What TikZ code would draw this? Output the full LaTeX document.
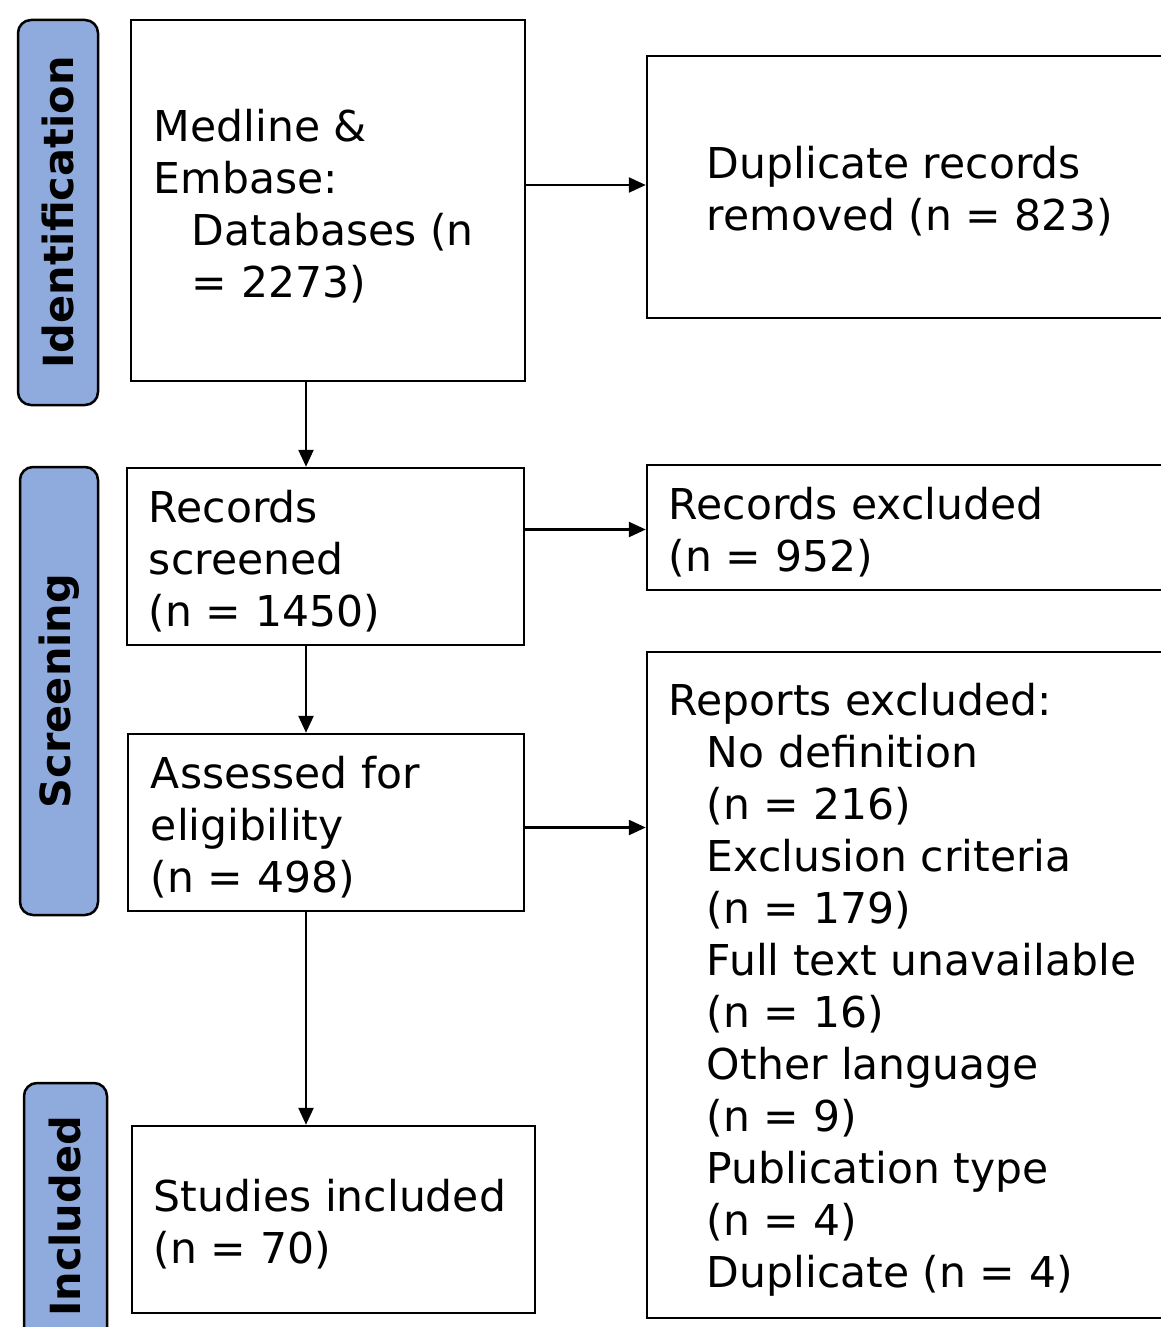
\documentclass[tikz,border=0pt]{standalone}
\usepackage{fontspec}
\setmainfont{DejaVu Sans}
\usetikzlibrary{arrows.meta,calc}
\definecolor{labblue}{HTML}{8FAADC}
\tikzset{
  box/.style={draw=black, line width=2.5pt, fill=white, inner sep=0pt, rectangle},
  txt/.style={anchor=west, align=left, inner sep=0pt, font=\fontsize{42.5}{52}\selectfont},
  lab/.style={draw=black, line width=2.5pt, fill=labblue, rounded corners=13pt, inner sep=0pt, rotate=90, font=\fontsize{41.5}{50}\selectfont\bfseries},
  arr/.style={line width=2.5pt, -{Triangle[length=17pt,width=15pt]}}
}
\newcommand{\ind}{\hspace*{38pt}}
\begin{document}
\begin{tikzpicture}[x=1pt,y=-1pt]
\useasboundingbox[fill=white] (0,0) rectangle (1160,1327);
% side labels
\node[lab, minimum width=385, minimum height=80] (lid) at (58,212.5) {Identification};
\node[lab, minimum width=448, minimum height=78] (lsc) at (59,691) {Screening};
\node[lab, minimum width=267, minimum height=83] (lin) at (65.5,1216.5) {Included};
% boxes
\node[box, minimum width=394, minimum height=361] (b1) at (328,200.5) {};
\node[box, minimum width=528, minimum height=262] (b2) at (911,187) {};
\node[box, minimum width=397, minimum height=177] (b3) at (325.5,556.5) {};
\node[box, minimum width=528, minimum height=125] (b4) at (911,527.5) {};
\node[box, minimum width=396, minimum height=177] (b5) at (326,822.5) {};
\node[box, minimum width=528, minimum height=666] (b6) at (911,985) {};
\node[box, minimum width=403, minimum height=187] (b7) at (333.5,1219.5) {};
% texts
\node[txt] (t1) at ([xshift=24pt,yshift=-6pt]b1.west) {Medline \&\\Embase:\\\ind Databases (n\\\ind = 2273)};
\node[txt] (t2) at ([xshift=61pt,yshift=-4pt]b2.west) {Duplicate records\\removed (n = 823)};
\node[txt] (t3) at ([xshift=23pt,yshift=-5pt]b3.west) {Records\\screened\\(n = 1450)};
\node[txt] (t4) at ([xshift=23pt,yshift=-5pt]b4.west) {Records excluded\\(n = 952)};
\node[txt] (t5) at ([xshift=24pt,yshift=-5pt]b5.west) {Assessed for\\eligibility\\(n = 498)};
\node[txt] (t6) at ([xshift=23pt,yshift=-5pt]b6.west) {Reports excluded:\\\ind No definition\\\ind (n = 216)\\\ind Exclusion criteria\\\ind (n = 179)\\\ind Full text unavailable\\\ind (n = 16)\\\ind Other language\\\ind (n = 9)\\\ind Publication type\\\ind (n = 4)\\\ind Duplicate (n = 4)};
\node[txt] (t7) at ([xshift=23pt,yshift=-5pt]b7.west) {Studies included\\(n = 70)};
% connectors
\coordinate (sp) at (306,0);
\draw[arr] ([yshift=2pt]b1.east |- b2.west) -- ([yshift=2pt]b2.west);
\draw[arr] (b1.south -| sp) -- (b3.north -| sp);
\draw[arr] ([yshift=-2pt]b3.east |- b4.west) -- ([yshift=-2pt]b4.west);
\draw[arr] (b3.south -| sp) -- (b5.north -| sp);
\draw[arr] ([yshift=-5pt]b5.east) -- ([yshift=-5pt]b5.east -| b6.west);
\draw[arr] (b5.south -| sp) -- (b7.north -| sp);
\end{tikzpicture}
\end{document}
